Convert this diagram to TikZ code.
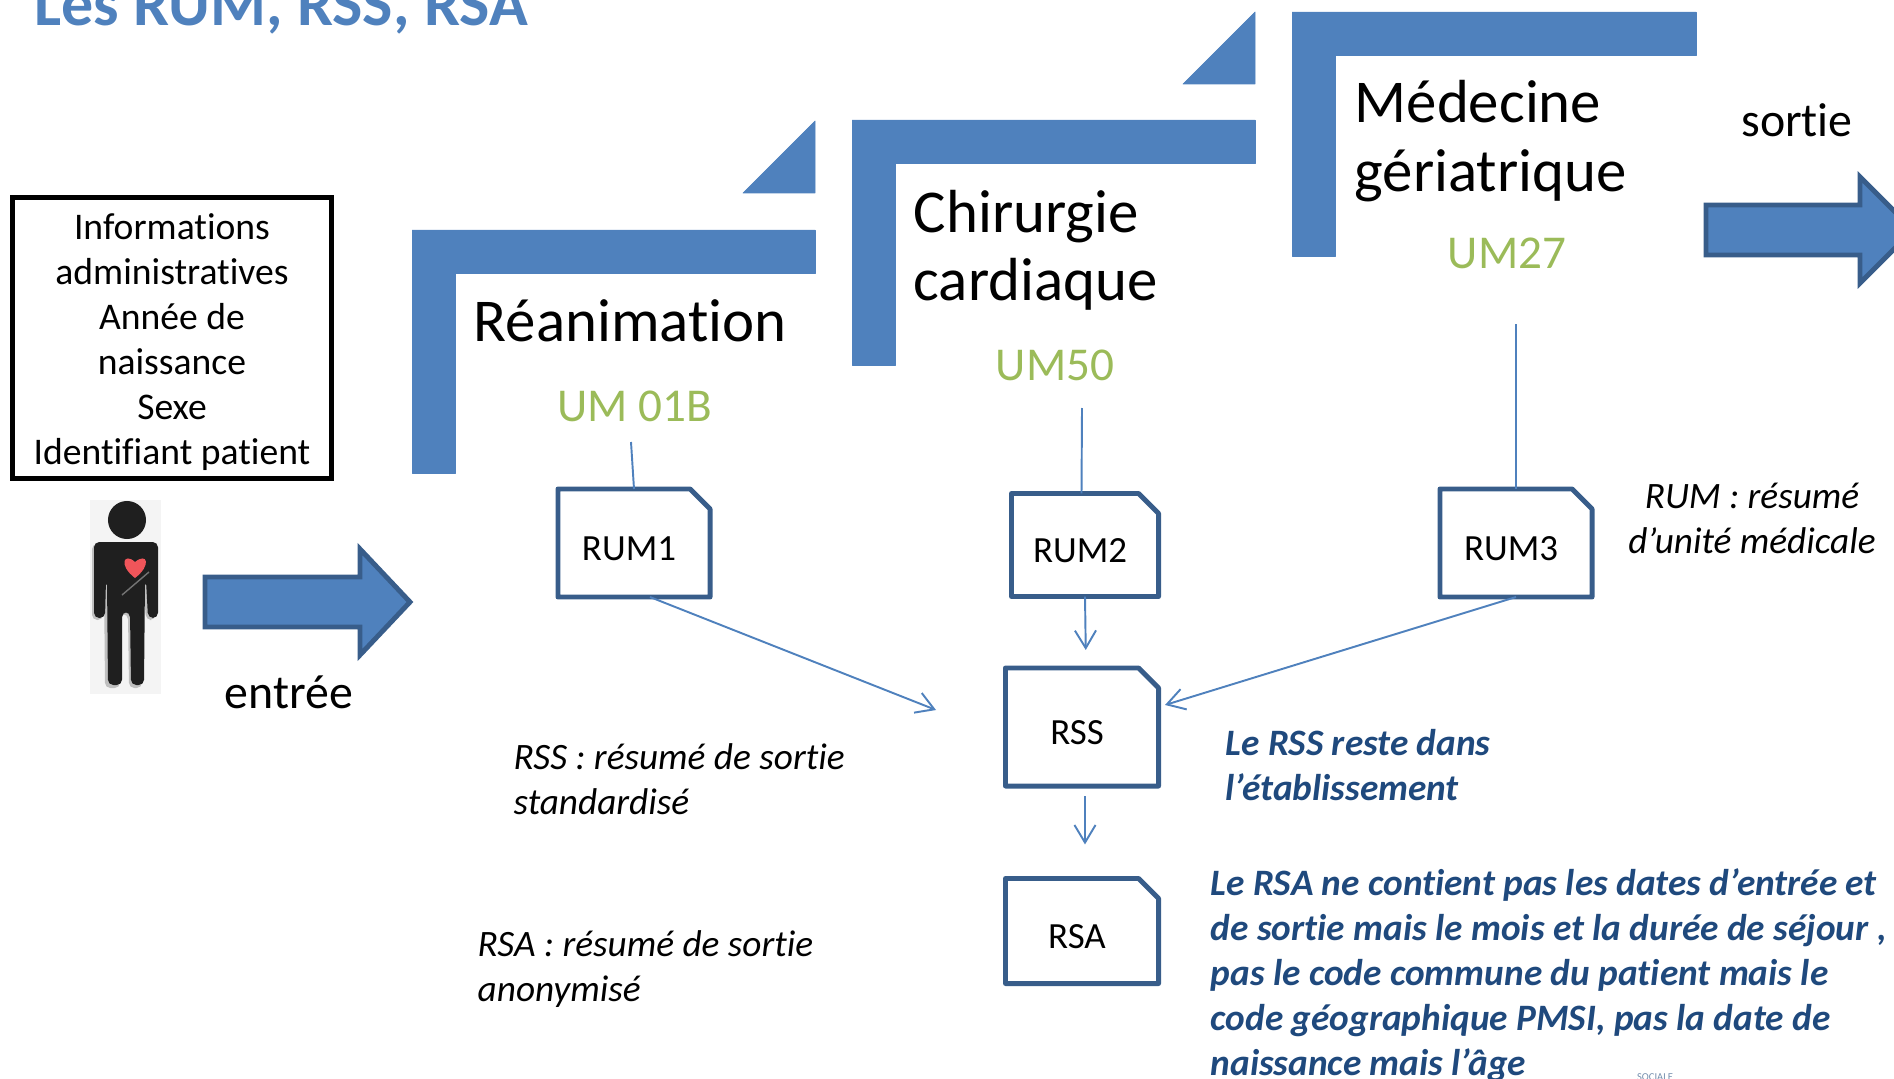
\documentclass[tikz,border=0pt]{standalone}
\usepackage{fontspec}
\setmainfont[Ligatures=NoCommon]{Carlito}
\usepackage{tikz}
\usetikzlibrary{arrows.meta}

\tikzset{
  band/.style={fill=band_blue, draw=band_blue, line width=.2pt, line join=round},
  bigarrow/.style={fill=band_blue, draw=edge_blue, line width=1.4pt, line join=miter},
  notebox/.style={inner sep=0pt, outer sep=0pt},
  noteline/.style={draw=edge_blue, line width=1.4pt, line join=round},
  notetext/.style={font=\fontsize{10.5}{12.7}\selectfont, xshift=-.05cm, yshift=-.06cm},
  link/.style={draw=band_blue, line width=.55pt},
  linkarrow/.style={link, -{Straight Barb[length=5pt,width=6pt,line width=.55pt]}},
  wardtext/.style={font=\fontsize{17.3}{19.4}\selectfont, align=left, anchor=west},
  umtext/.style={font=\fontsize{13.4}{15}\selectfont, text=um_green},
  plaintext/.style={font=\fontsize{10.7}{12.8}\selectfont},
  legend/.style={font=\fontsize{10.6}{12.8}\selectfont\itshape, align=left, anchor=west},
  remark/.style={font=\fontsize{10.6}{12.8}\selectfont\bfseries\itshape, text=remark_blue, align=left, anchor=west},
}
\newcommand{\snipoutline}[1]{\draw[noteline] (#1.north west) -- ([xshift=-.2cm]#1.north east) -- ([yshift=-.2cm]#1.north east) -- (#1.south east) -- (#1.south west) -- cycle;}

\begin{document}
\begin{tikzpicture}[x=.01cm, y=-.01cm]

\definecolor{band_blue}{HTML}{4F81BD}
\definecolor{edge_blue}{HTML}{385D8A}
\definecolor{um_green}{HTML}{9BBB59}
\definecolor{remark_blue}{HTML}{1F497D}
\definecolor{photo_grey}{HTML}{F4F4F4}
\definecolor{heart_red}{HTML}{F0555A}

\useasboundingbox (0,0) rectangle (1894,1079);
\clip (0,0) rectangle (1894,1079);

% title
\node[anchor=base west, font=\fontsize{18.2}{20}\selectfont\bfseries, text=band_blue, inner sep=0pt] (title) at (34,26) {Les RUM, RSS, RSA};

% patient data
\node[draw=black, line width=1.4pt, minimum width=3.18cm, minimum height=2.80cm, inner sep=0pt, align=center, plaintext] (info) at (172,338)
  {\rule{0pt}{9.6pt}Informations\\ administratives\\ Année de\\ naissance\\ Sexe\\ Identifiant patient};

% patient
\fill[photo_grey] (90,500) rectangle (161,694);
\fill[black!25, rounded corners=1.5pt] (92,544) -- (155,544) -- (155,620) -- (146,620) -- (143,580) -- (142,688) -- (129,688) -- (128,614) -- (120,614) -- (120,688) -- (105,688) -- (104,580) -- (103,620) -- (92,620) -- cycle;
\fill[black!88] (127,520) circle (.19cm);
\fill[black!88, rounded corners=1.5pt] (94,542) -- (158,542) -- (158,618) -- (148,618) -- (146,580) -- (145,580) -- (144,685) -- (131,685) -- (130,612) -- (122,612) -- (122,685) -- (108,685) -- (107,580) -- (106,580) -- (105,618) -- (94,618) -- cycle;
\fill[heart_red] (135,578) .. controls (118,565) and (124,552) .. (135,562) .. controls (147,552) and (152,565) .. (135,578) -- cycle;
\draw[black!55, line width=.4pt] (122,595) -- (149,572);

% in and out
\draw[bigarrow] (205,577) -- (360,577) -- (360,549) -- (410,602) -- (360,655) -- (360,627) -- (205,627) -- cycle;
\node[font=\fontsize{13.6}{15}\selectfont] (entree) at (289,692) {entrée};
\draw[bigarrow] (1706,205) -- (1860,205) -- (1860,177) -- (1913,230) -- (1860,283) -- (1860,255) -- (1706,255) -- cycle;
\node[font=\fontsize{13.6}{15}\selectfont] (sortie) at (1797,120) {sortie};

% wards
\fill[band] (412,230) -- (815,230) -- (815,273) -- (455,273) -- (455,473) -- (412,473) -- cycle;
\fill[band] (743,193) -- (815,121) -- (815,193) -- cycle;
\fill[band] (852,120) -- (1255,120) -- (1255,163) -- (895,163) -- (895,365) -- (852,365) -- cycle;
\fill[band] (1183,84) -- (1255,12) -- (1255,84) -- cycle;
\fill[band] (1292,12) -- (1696,12) -- (1696,55) -- (1335,55) -- (1335,256) -- (1292,256) -- cycle;

\node[wardtext, inner sep=0pt] (reanim) at (473,321) {Réanimation};
\node[wardtext, inner sep=0pt] (chir) at (913,250) {Chirurgie\\ cardiaque};
\node[wardtext, inner sep=0pt] (medec) at (1354,141) {Médecine\\ gériatrique};

\node[umtext] (um01) at (635,406) {UM 01B};
\node[umtext] (um50) at (1055,365) {UM50};
\node[umtext] (um27) at (1507,253) {UM27};

% documents
\node[notebox, minimum width=1.52cm, minimum height=1.08cm, label={[notetext]center:RUM1}] (rum1) at (634,543) {};
\node[notebox, minimum width=1.47cm, minimum height=1.03cm, label={[notetext]center:RUM2}] (rum2) at (1085,545) {};
\node[notebox, minimum width=1.52cm, minimum height=1.08cm, label={[notetext]center:RUM3}] (rum3) at (1516,543) {};
\node[notebox, minimum width=1.53cm, minimum height=1.18cm, label={[notetext]center:RSS}] (rss) at (1082,727) {};
\node[notebox, minimum width=1.53cm, minimum height=1.05cm, label={[notetext]center:RSA}] (rsa) at (1082,931) {};
\snipoutline{rum1}
\snipoutline{rum2}
\snipoutline{rum3}
\snipoutline{rss}
\snipoutline{rsa}

\coordinate (um01end) at (631,442);
\coordinate (um50end) at (1082,408);
\coordinate (um27end) at (1516,324);
\coordinate (rssleft) at (936,710);
\coordinate (rssright) at (1165,705);

\draw[link] (um01end) -- (rum1.north);
\draw[link] (um50end) -- ([xshift=-.035cm]rum2.north);
\draw[link] (um27end) -- (rum3.north);
\draw[linkarrow] ([xshift=.16cm]rum1.south) -- (rssleft);
\draw[linkarrow, shorten >=.18cm] (rum2.south) -- ([xshift=.04cm]rss.north);
\draw[linkarrow] (rum3.south) -- (rssright);
\draw[linkarrow, shorten <=.1cm, shorten >=.34cm] ([xshift=.03cm]rss.south) -- ([xshift=.03cm]rsa.north);

% legends
\node[legend, align=center, anchor=center] (rumlegend) at (1752,518) {RUM : résumé\\ d’unité médicale};
\node[legend, inner sep=0pt] (rsslegend) at (513,779) {RSS : résumé de sortie\\ standardisé};
\node[legend, inner sep=0pt] (rsalegend) at (477,969) {RSA : résumé de sortie\\ anonymisé};

\node[remark, inner sep=0pt] (rssremark) at (1225,765) {Le RSS reste dans\\ l’établissement};
\node[remark, inner sep=0pt] (rsaremark) at (1210,975) {Le RSA ne contient pas les dates d’entrée et\\ de sortie mais le mois et la durée de séjour ,\\ pas le code commune du patient mais le\\ code géographique PMSI, pas la date de\\ naissance mais l’âge};

\node[font=\fontsize{3}{4}\selectfont, text=edge_blue!70] (logo) at (1655,1077) {SOCIALE};

\end{tikzpicture}
\end{document}
